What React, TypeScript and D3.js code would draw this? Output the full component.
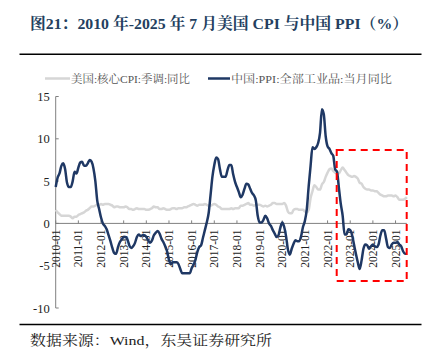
import React from "react";
import * as d3 from "d3";

const tickYears = d3.range(2010, 2026);

const usCoreCPI: number[] = [
  1.6, 1.3, 1.1, 0.9, 0.9, 0.9, 0.9, 0.9, 0.8, 0.6, 0.8, 0.8,
  1.0, 1.1, 1.2, 1.3, 1.5, 1.6, 1.8, 2.0, 2.0, 2.1, 2.2, 2.2,
  2.3, 2.2, 2.3, 2.3, 2.3, 2.2, 2.1, 1.9, 2.0, 2.0, 1.9, 1.9,
  1.9, 2.0, 1.9, 1.7, 1.7, 1.6, 1.7, 1.8, 1.7, 1.7, 1.7, 1.7,
  1.6, 1.6, 1.7, 1.8, 2.0, 1.9, 1.9, 1.7, 1.7, 1.8, 1.7, 1.6,
  1.6, 1.7, 1.8, 1.8, 1.7, 1.8, 1.8, 1.8, 1.9, 1.9, 2.0, 2.1,
  2.2, 2.3, 2.2, 2.1, 2.2, 2.2, 2.2, 2.3, 2.2, 2.1, 2.1, 2.2,
  2.3, 2.2, 2.0, 1.9, 1.7, 1.7, 1.7, 1.7, 1.7, 1.8, 1.7, 1.8,
  1.8, 1.8, 2.1, 2.1, 2.2, 2.3, 2.4, 2.2, 2.2, 2.1, 2.2, 2.2,
  2.2, 2.1, 2.0, 2.1, 2.0, 2.1, 2.2, 2.4, 2.4, 2.3, 2.3, 2.3,
  2.3, 2.4, 2.1, 1.4, 1.2, 1.2, 1.6, 1.7, 1.7, 1.6, 1.6, 1.6,
  1.4, 1.3, 1.6, 3.0, 3.8, 4.5, 4.3, 4.0, 4.0, 4.6, 4.9, 5.5,
  6.0, 6.4, 6.5, 6.2, 6.0, 5.9, 5.9, 6.3, 6.6, 6.3, 6.0, 5.7,
  5.6, 5.5, 5.6, 5.5, 5.3, 4.8, 4.7, 4.3, 4.1, 4.0, 4.0, 3.9,
  3.9, 3.8, 3.8, 3.6, 3.4, 3.3, 3.2, 3.2, 3.3, 3.3, 3.3, 3.2,
  3.3, 3.1, 2.8, 2.8, 2.8, 2.9, 3.1,
];

const chinaPPI: number[] = [
  4.3, 5.4, 5.9, 6.8, 7.1, 6.4, 4.8, 4.3, 4.3, 5.0, 6.1, 5.9,
  6.6, 7.2, 7.3, 6.8, 6.8, 7.1, 7.5, 7.3, 6.5, 5.0, 2.7, 1.7,
  0.7, 0.0, -0.3, -0.7, -1.4, -2.1, -2.9, -3.5, -3.6, -2.8, -2.2, -1.9,
  -1.6, -1.6, -1.9, -2.6, -2.9, -2.7, -2.3, -1.6, -1.3, -1.5, -1.4, -1.4,
  -1.6, -2.0, -2.3, -2.0, -1.4, -1.1, -0.9, -1.2, -1.8, -2.2, -2.7, -3.3,
  -4.3, -4.8, -4.6, -4.6, -4.6, -4.8, -5.4, -5.9, -5.9, -5.9, -5.9, -5.9,
  -5.3, -4.9, -4.3, -3.4, -2.8, -2.6, -1.7, -0.8, 0.1, 1.2, 3.3, 5.5,
  6.9, 7.8, 7.6, 6.4, 5.5, 5.5, 5.5, 6.3, 6.9, 6.9, 5.8, 4.9,
  4.3, 3.7, 3.1, 3.4, 4.1, 4.7, 4.6, 4.1, 3.6, 3.3, 2.7, 0.9,
  0.1, 0.1, 0.4, 0.9, 0.6, 0.0, -0.3, -0.8, -1.2, -1.6, -1.4, -0.5,
  0.1, -0.4, -1.5, -3.1, -3.7, -3.0, -2.4, -2.0, -2.1, -2.1, -1.5, -0.4,
  0.3, 1.7, 4.4, 6.8, 9.0, 8.8, 9.0, 9.5, 10.7, 13.5, 12.9, 10.3,
  9.1, 8.8, 8.3, 8.0, 6.4, 6.1, 4.2, 2.3, 0.9, -1.3, -1.3, -0.7,
  -0.8, -1.4, -2.5, -3.6, -4.6, -5.4, -4.4, -3.0, -2.5, -2.6, -3.0, -2.7,
  -2.5, -2.7, -2.8, -2.5, -1.4, -0.8, -0.8, -1.8, -2.8, -2.9, -2.5, -2.3,
  -2.3, -2.2, -2.5, -2.7, -3.3, -3.6, -3.6,
];

const yTicks = [15, 10, 5, 0, -5, -10];
const titleText = "图21：2010 年-2025 年 7 月美国 CPI 与中国 PPI（%）";
const legendLabels = ["美国:核心CPI:季调:同比", "中国:PPI:全部工业品:当月同比"];
const sourceText = "数据来源：Wind，东吴证券研究所";

const W = 431;
const H = 360;
const SERIF = "'Liberation Serif', 'Noto Serif CJK SC', 'Noto Sans CJK SC', serif";
const NAVY = "#1f3864";
const GRAY = "#d6d6d6";

export default function App() {
  const x0 = 55.7;
  const perMonth = 1.888;
  const x = d3.scaleLinear().domain([0, 186]).range([x0, x0 + 186 * perMonth]);
  const y = d3.scaleLinear().domain([-10, 15]).range([308, 96.5]);
  const line = d3
    .line<number>()
    .x((_, i) => x(i))
    .y((d) => y(d))
    .curve(d3.curveMonotoneX);

  const axisColor = "#808080";
  const legY = 78.5;

  return (
    <svg width={W} height={H} style={{ position: "absolute", left: 0, top: 0, background: "#fff" }}>
      <text
        x={30}
        y={29}
        fontFamily={SERIF}
        fontWeight="bold"
        fontSize={15.5}
        fill="#243f60"
        textLength={378}
        lengthAdjust="spacingAndGlyphs"
      >
        {titleText}
      </text>
      <line x1={19.5} x2={421.5} y1={54.3} y2={54.3} stroke="#000" strokeWidth={1.5} />

      {/* legend */}
      <line x1={45} x2={70} y1={legY} y2={legY} stroke={GRAY} strokeWidth={2.5} />
      <text
        x={71}
        y={legY + 4}
        fontFamily={SERIF}
        fontSize={11}
        fill="#555"
        textLength={119}
        lengthAdjust="spacingAndGlyphs"
      >
        {legendLabels[0]}
      </text>
      <line x1={208} x2={230} y1={legY} y2={legY} stroke={NAVY} strokeWidth={2.5} />
      <text
        x={231}
        y={legY + 4}
        fontFamily={SERIF}
        fontSize={11}
        fill="#555"
        textLength={161}
        lengthAdjust="spacingAndGlyphs"
      >
        {legendLabels[1]}
      </text>

      {/* y axis */}
      <line x1={x0} x2={x0} y1={y(15)} y2={y(-10)} stroke={axisColor} strokeWidth={1} />
      {yTicks.map((t) => (
        <g key={t}>
          <line x1={x0} x2={x0 + 3} y1={y(t)} y2={y(t)} stroke={axisColor} strokeWidth={1} />
          <text
            x={x0 - 6}
            y={y(t) + 4.5}
            textAnchor="end"
            fontFamily={SERIF}
            fontSize={12.5}
            fill="#222"
          >
            {t}
          </text>
        </g>
      ))}

      {/* x axis at zero */}
      <line x1={x0} x2={x(186)} y1={y(0)} y2={y(0)} stroke={axisColor} strokeWidth={1} />
      {tickYears.map((yr, k) => {
        const xi = x(k * 12);
        return (
          <g key={yr}>
            <line x1={xi} x2={xi} y1={y(0)} y2={y(0) - 3} stroke={axisColor} strokeWidth={1} />
            <text
              transform={`translate(${xi + 4},${y(0) + 6}) rotate(-90)`}
              textAnchor="end"
              fontFamily={SERIF}
              fontSize={11.5}
              fill="#222"
            >
              {`${yr}-01`}
            </text>
          </g>
        );
      })}

      <path d={line(usCoreCPI) || ""} fill="none" stroke={GRAY} strokeWidth={2.5} />
      <path d={line(chinaPPI) || ""} fill="none" stroke={NAVY} strokeWidth={2.5} />

      {/* red dashed highlight */}
      <rect
        x={336.7}
        y={150}
        width={70}
        height={131}
        fill="none"
        stroke="#ff0000"
        strokeWidth={2}
        strokeDasharray="7,5"
      />

      <line x1={19.5} x2={421.5} y1={324.5} y2={324.5} stroke="#000" strokeWidth={1.5} />
      <text
        x={30}
        y={344.5}
        fontFamily={SERIF}
        fontSize={13.5}
        fill="#222"
        textLength={242}
        lengthAdjust="spacingAndGlyphs"
      >
        {sourceText}
      </text>
    </svg>
  );
}
